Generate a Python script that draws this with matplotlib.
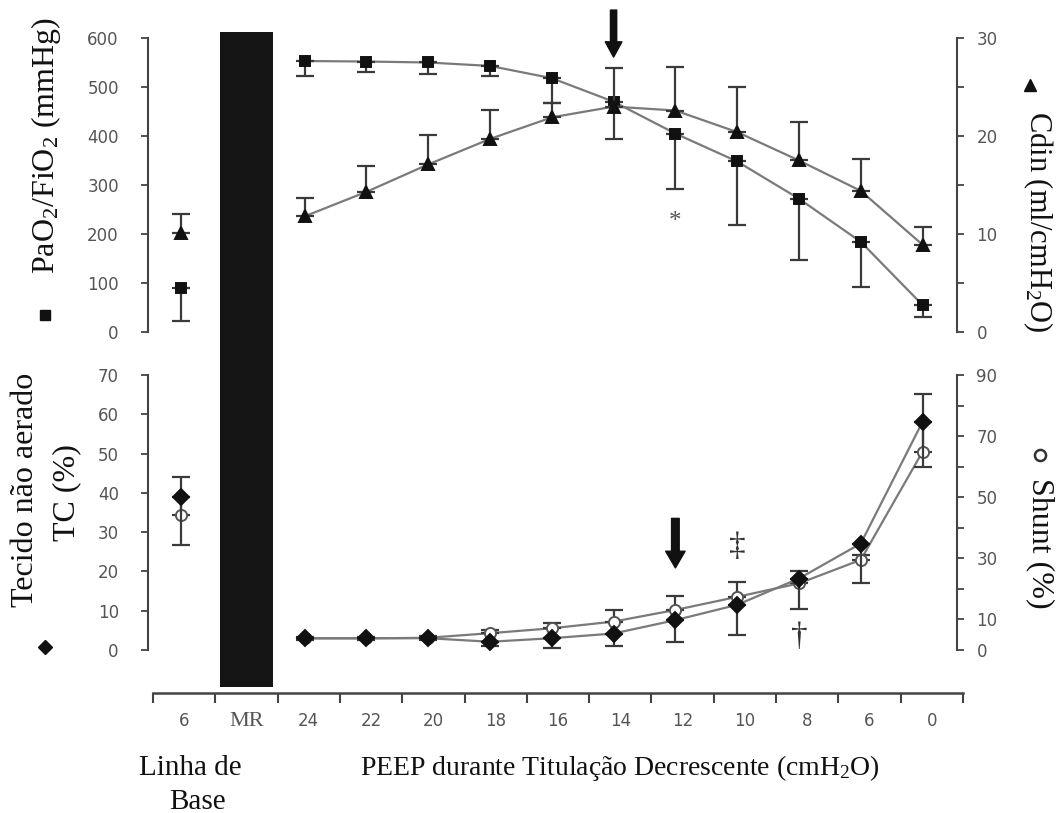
import numpy as np
import matplotlib
matplotlib.use("Agg")
import matplotlib.pyplot as plt
from matplotlib.lines import Line2D

plt.rcParams["mathtext.fontset"] = "custom"
plt.rcParams["mathtext.rm"] = "Liberation Serif"
plt.rcParams["mathtext.it"] = "Liberation Serif:italic"

# categories along the bottom axis: baseline, recruitment manoeuvre, PEEP steps
x_labels = ["6", "MR", "24", "22", "20", "18", "16", "14", "12", "10", "8", "6", "0"]
base_pos = 0
peep_pos = np.arange(2, 13)

# PaO2/FiO2 (mmHg), lower error only
pf_base, pf_base_err = 90, 67
pf = [553, 552, 550, 543, 518, 470, 405, 348, 272, 184, 55]
pf_err = [30, 22, 23, 20, 50, 77, 114, 130, 126, 92, 24]

# dynamic compliance (ml/cmH2O), upper error only
cdin_base, cdin_base_err = 10.1, 1.9
cdin = [11.8, 14.3, 17.1, 19.7, 21.9, 23.0, 22.6, 20.4, 17.5, 14.4, 8.9]
cdin_err = [1.9, 2.6, 3.0, 3.0, 1.5, 3.9, 4.4, 4.6, 3.9, 3.3, 1.8]

# non-aerated tissue on CT (%), lower error only
tc_base, tc_base_err = 39.0, 12.3
tc = [3.0, 3.0, 3.0, 2.1, 3.0, 4.2, 7.6, 11.5, 18.2, 27.1, 58.1]
tc_err = [0.5, 0.5, 0.5, 1.1, 2.6, 3.2, 5.5, 7.7, 7.8, 10.1, 11.5]

# shunt (%), upper error only
shunt_base, shunt_base_err = 44.2, 12.5
shunt = [3.8, 3.8, 4.0, 5.5, 7.1, 9.3, 13.1, 17.4, 21.8, 29.5, 64.9]
shunt_err = [0.5, 0.5, 0.5, 1.0, 1.8, 3.8, 4.6, 4.9, 4.1, 1.5, 19.0]

W, H = 1062, 813
SERIF = "Liberation Serif"
TICK_C = "#555555"
SPINE_C = "#444444"
LINE_C = "#7a7a7a"
ERR_C = "#3a3a3a"


def frame(x0, y0, x1, y1):
    return [x0 / W, 1 - y1 / H, (x1 - x0) / W, (y1 - y0) / H]


def style_axis(ax, side):
    for s in ["top", "bottom", "left", "right"]:
        ax.spines[s].set_visible(s == side)
    ax.spines[side].set_color(SPINE_C)
    ax.spines[side].set_linewidth(1.5)
    ax.tick_params(axis="y", direction="out", length=5, width=1.3,
                   color=SPINE_C, labelcolor=TICK_C, labelsize=12,
                   pad=16 if side == "left" else 9,
                   left=(side == "left"), right=(side == "right"),
                   labelleft=(side == "left"), labelright=(side == "right"))
    ax.tick_params(axis="x", bottom=False, labelbottom=False)
    ax.set_facecolor("none")


def series(ax, xs, ys, err, upper, marker, ms, mfc, mec, line=True):
    zeros = np.zeros(len(err))
    yerr = [zeros, err] if upper else [err, zeros]
    ax.errorbar(xs, ys, yerr=yerr, fmt="none", ecolor=ERR_C, elinewidth=1.6,
                capsize=6.5, capthick=1.6, zorder=3)
    if line:
        ax.plot(xs, ys, color=LINE_C, lw=1.6, zorder=2)
    ax.plot(xs, ys, ls="none", marker=marker, ms=ms, mfc=mfc, mec=mec,
            mew=1.4, zorder=4)


fig = plt.figure(figsize=(W / 100, H / 100), dpi=100)

xlim_panel = (-0.534, 12.557)

# --- top panel: PaO2/FiO2 and Cdin ---
ax_top = fig.add_axes(frame(148, 38, 957, 332))
ax_top_r = ax_top.twinx()
style_axis(ax_top, "left")
style_axis(ax_top_r, "right")
ax_top.set_xlim(*xlim_panel)
ax_top.set_ylim(0, 600)
ax_top.set_yticks(range(0, 601, 100))
ax_top_r.set_ylim(0, 30)
ax_top_r.set_yticks(range(0, 31, 5))
ax_top_r.set_yticklabels(["0", "", "10", "", "20", "", "30"])

series(ax_top, peep_pos, pf, pf_err, False, "s", 7.5, "#111111", "#111111")
series(ax_top, [base_pos], [pf_base], [pf_base_err], False, "s", 7.5,
       "#111111", "#111111", line=False)
series(ax_top_r, peep_pos, cdin, cdin_err, True, "^", 8, "#111111", "#111111")
series(ax_top_r, [base_pos], [cdin_base], [cdin_base_err], True, "^", 8,
       "#111111", "#111111", line=False)

ax_top.annotate("", xy=(7, 561), xytext=(7, 657), annotation_clip=False,
                arrowprops=dict(facecolor="#111111", edgecolor="#111111",
                                width=4.5, headwidth=12, headlength=11, shrink=0))
ax_top.text(8, 224, "*", ha="center", va="center", fontsize=18,
            color="#555555", family=SERIF)

# --- bottom panel: non-aerated tissue and shunt ---
ax_bot = fig.add_axes(frame(148, 375, 957, 650))
ax_bot_r = ax_bot.twinx()
style_axis(ax_bot, "left")
style_axis(ax_bot_r, "right")
ax_bot.set_xlim(*xlim_panel)
ax_bot.set_ylim(0, 70)
ax_bot.set_yticks(range(0, 71, 10))
ax_bot_r.set_ylim(0, 90)
ax_bot_r.set_yticks(range(0, 91, 10))
ax_bot_r.set_yticklabels(["0", "10", "", "30", "", "50", "", "70", "", "90"])

series(ax_bot_r, peep_pos, shunt, shunt_err, True, "o", 8, "white", "#555555")
series(ax_bot_r, [base_pos], [shunt_base], [shunt_base_err], True, "o", 8,
       "white", "#555555", line=False)
series(ax_bot, peep_pos, tc, tc_err, False, "D", 8, "#111111", "#111111")
series(ax_bot, [base_pos], [tc_base], [tc_base_err], False, "D", 8,
       "#111111", "#111111", line=False)
ax_bot_r.set_zorder(ax_bot.zorder - 1)

ax_bot.annotate("", xy=(8, 20.9), xytext=(8, 33.5), annotation_clip=False,
                arrowprops=dict(facecolor="#111111", edgecolor="#111111",
                                width=5.5, headwidth=14, headlength=12, shrink=0))
ax_bot.text(9, 26.2, "\u2021", ha="center", va="center", fontsize=24,
            color="#333333", family=SERIF)
ax_bot.text(10, 3.3, "\u2020", ha="center", va="center", fontsize=24,
            color="#333333", family=SERIF)

# --- recruitment manoeuvre bar spanning both panels ---
ax_bar = fig.add_axes(frame(153, 32, 963, 687))
ax_bar.set_xlim(-0.5, 12.5)
ax_bar.set_ylim(0, 1)
ax_bar.bar([1], [1], width=0.84, color="#151515")
ax_bar.axis("off")

# --- shared category axis ---
ax_x = fig.add_axes(frame(153, 692, 963, 693))
ax_x.set_xlim(-0.5, 12.5)
for s in ["top", "left", "right"]:
    ax_x.spines[s].set_visible(False)
ax_x.spines["bottom"].set_color(SPINE_C)
ax_x.spines["bottom"].set_linewidth(1.8)
ax_x.set_yticks([])
ax_x.set_facecolor("none")
ax_x.set_xticks(np.arange(-0.5, 13, 1))
ax_x.set_xticklabels([])
ax_x.set_xticks(np.arange(len(x_labels)), minor=True)
ax_x.set_xticklabels(x_labels, minor=True)
ax_x.tick_params(axis="x", which="major", direction="out", length=7,
                 width=1.5, color=SPINE_C)
ax_x.tick_params(axis="x", which="minor", length=0, pad=14,
                 labelsize=12, labelcolor=TICK_C)
mr_label = ax_x.get_xticklabels(minor=True)[1]
mr_label.set_family(SERIF)
mr_label.set_fontsize(16)

# --- axis titles and series keys ---
def ftext(x, y, s, **kw):
    fig.text(x / W, 1 - y / H, s, ha="center", va="center",
             family=SERIF, color="#111111", **kw)


def fmarker(x, y, **kw):
    fig.add_artist(Line2D([x / W], [1 - y / H], transform=fig.transFigure,
                          ls="none", **kw))


ftext(46, 145, r"PaO$_2$/FiO$_2$ (mmHg)", rotation=90, fontsize=23)
fmarker(45, 315, marker="s", ms=7.5, color="#111111")

ftext(1038, 222, r"Cdin (ml/cmH$_2$O)", rotation=270, fontsize=22)
fmarker(1030, 85, marker="^", ms=8, color="#111111")

ftext(26, 490, "Tecido não aerado", rotation=90, fontsize=23)
ftext(67, 493, "TC (%)", rotation=90, fontsize=23)
fmarker(45, 647, marker="D", ms=7, color="#111111")

ftext(1040, 543, "Shunt (%)", rotation=270, fontsize=23)
fmarker(1040, 455, marker="o", ms=8, mfc="white", mec="#333333", mew=1.8)

ftext(190, 768, "Linha de", fontsize=21)
ftext(197, 802, "Base", fontsize=21)
ftext(620, 768, r"PEEP durante Titulação Decrescente (cmH$_2$O)", fontsize=20)

fig.savefig("out.png", dpi=100, facecolor="white")
